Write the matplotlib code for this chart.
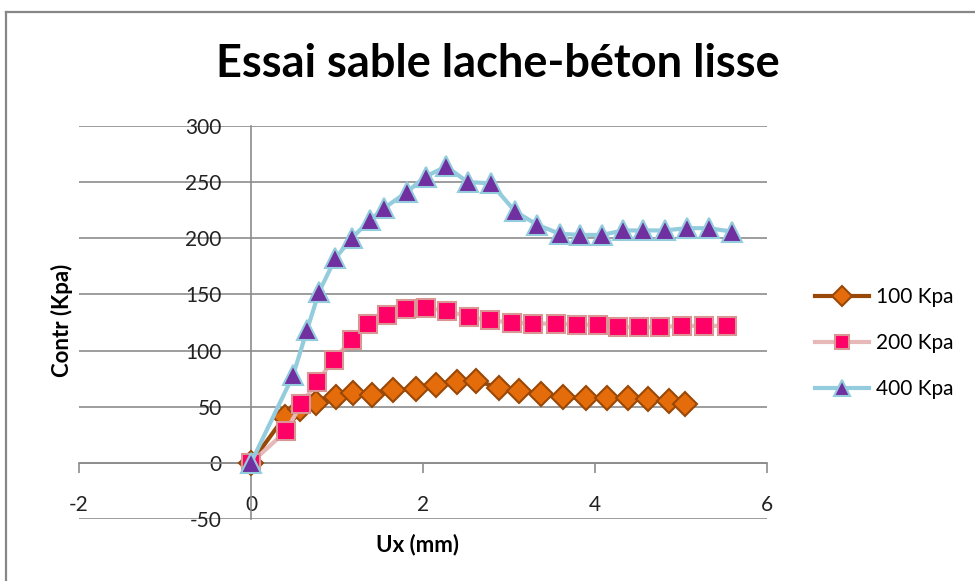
import matplotlib
matplotlib.use("Agg")
import matplotlib.pyplot as plt
from matplotlib.lines import Line2D

plt.rcParams['font.family'] = ['Lato', 'DejaVu Sans']
plt.rcParams['axes.unicode_minus'] = False

# Data
x_100 = [0, 0.39, 0.57, 0.76, 0.99, 1.19, 1.41, 1.65, 1.92, 2.15, 2.39, 2.62, 2.88,
         3.12, 3.37, 3.63, 3.90, 4.14, 4.38, 4.62, 4.86, 5.05]
y_100 = [0, 41, 48, 53, 58.5, 62, 60, 65, 65.5, 69, 72, 73, 67,
         64, 61, 58.5, 57.5, 57.5, 57.5, 56.5, 55.5, 52.5]

x_200 = [0, 0.41, 0.58, 0.77, 0.96, 1.17, 1.36, 1.58, 1.80, 2.03, 2.28, 2.53, 2.78,
         3.03, 3.28, 3.55, 3.79, 4.03, 4.27, 4.51, 4.76, 5.01, 5.27, 5.53]
y_200 = [0, 28.5, 52, 72, 92, 109.5, 123.5, 132, 137, 138, 135.5, 130, 127,
         125, 124, 124, 123, 123, 121, 121, 121, 122, 122, 122]

x_400 = [0, 0.49, 0.65, 0.79, 0.98, 1.17, 1.38, 1.55, 1.81, 2.03, 2.27, 2.52, 2.79,
         3.07, 3.33, 3.59, 3.83, 4.08, 4.33, 4.56, 4.81, 5.07, 5.32, 5.59]
y_400 = [0, 78, 118, 152, 182, 200, 216, 227, 241, 255, 264, 250, 249,
         224, 212, 204, 203, 203, 207, 207, 207, 209, 209, 206]

labels = ['100 Kpa', '200 Kpa', '400 Kpa']
x_ticks = [-2, 0, 2, 4, 6]
y_ticks = [-50, 0, 50, 100, 150, 200, 250, 300]

W, H = 975, 581
fig = plt.figure(figsize=(W / 100, H / 100), dpi=100)
fig.patch.set_facecolor('white')

# Chart border (top and left visible)
fig.add_artist(Line2D([6 / W, 1.0], [1 - 12 / H, 1 - 12 / H], color='#878787', lw=1.6))
fig.add_artist(Line2D([6 / W, 6 / W], [0, 1 - 12 / H], color='#878787', lw=1.6))

ax = fig.add_axes([79 / W, 1 - 519 / H, (767 - 79) / W, (519 - 126) / H])
ax.set_xlim(-2, 6)
ax.set_ylim(-50, 300)

grid_c = '#8c8c8c'
ax.set_yticks(y_ticks)
ax.set_xticks(x_ticks)
ax.yaxis.grid(True, color=grid_c, lw=1.2)
ax.set_axisbelow(True)

for s in ['top', 'right']:
    ax.spines[s].set_visible(False)
ax.spines['left'].set_position(('data', 0))
ax.spines['bottom'].set_position(('data', 0))
ax.spines['left'].set_color(grid_c)
ax.spines['bottom'].set_color(grid_c)
ax.spines['left'].set_linewidth(1.2)
ax.spines['bottom'].set_linewidth(1.2)

ax.tick_params(axis='x', direction='out', length=7, width=1.2, color=grid_c,
               labelsize=15, pad=16)
ax.tick_params(axis='y', direction='out', length=0, width=1.2, color=grid_c,
               labelsize=15, pad=21)
for lab in ax.get_xticklabels() + ax.get_yticklabels():
    lab.set_color('#222222')

ms = 13
ax.plot(x_100, y_100, color='#984807', lw=3, marker='D', markersize=ms * 0.95,
        markerfacecolor='#E46C0A', markeredgecolor='#984807', markeredgewidth=1.5,
        label=labels[0], zorder=3)
ax.plot(x_200, y_200, color='#E6B9B8', lw=3, marker='s', markersize=ms,
        markerfacecolor='#FF0066', markeredgecolor='#D99694', markeredgewidth=1.5,
        label=labels[1], zorder=4)
ax.plot(x_400, y_400, color='#93CDDD', lw=3, marker='^', markersize=ms * 1.15,
        markerfacecolor='#7030A0', markeredgecolor='#93CDDD', markeredgewidth=1.5,
        label=labels[2], zorder=5)
for ln in ax.get_lines():
    ln.set_clip_on(False)

fig.text(498 / W, 1 - 64 / H, 'Essai sable lache-béton lisse', ha='center', va='center',
         fontsize=32.5, fontweight='bold', color='black')
fig.text(62 / W, 1 - 320 / H, 'Contr (Kpa)', ha='center', va='center', rotation=90,
         fontsize=16, fontweight='bold', color='black')
fig.text(418 / W, 1 - 545 / H, 'Ux (mm)', ha='center', va='center',
         fontsize=16, fontweight='bold', color='black')

fig.legend(loc='center left', bbox_to_anchor=(796 / W, 1 - 343 / H), frameon=False,
           fontsize=15, handlelength=2.6, labelspacing=1.25, handletextpad=0.35,
           markerscale=0.8)

fig.savefig('out.png', dpi=100, facecolor='white')
